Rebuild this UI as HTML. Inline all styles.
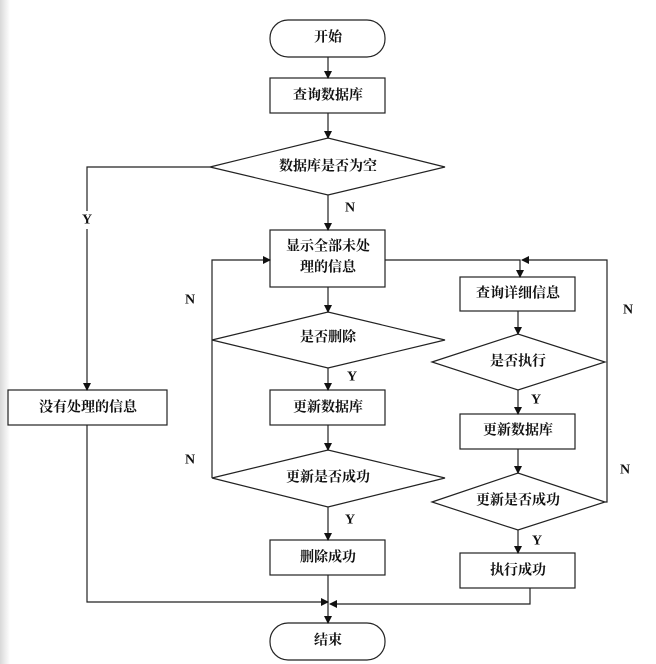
<!DOCTYPE html>
<html><head><meta charset="utf-8"><style>
body{margin:0;background:#fff}
svg{display:block}
text{font-family:"Liberation Serif","Noto Serif CJK SC",serif;font-size:14px;font-weight:bold;fill:#111;text-anchor:middle;dominant-baseline:central}
</style></head><body>
<svg width="656" height="664" viewBox="0 0 656 664" xmlns="http://www.w3.org/2000/svg">
<defs>
<linearGradient id="g" x1="0" x2="1"><stop offset="0" stop-color="#d8d8d8"/><stop offset="1" stop-color="#fff"/></linearGradient>
<marker id="a" markerWidth="8" markerHeight="8" refX="7" refY="4" orient="auto" markerUnits="userSpaceOnUse"><path d="M0,0 L8,4 L0,8z" fill="#111"/></marker>
</defs>
<rect x="0" y="0" width="10" height="664" fill="url(#g)"/>
<g fill="none" stroke="#222" stroke-width="1.2">
<rect x="270" y="20" width="115" height="37" rx="18"/>
<rect x="270" y="78" width="115" height="35"/>
<polygon points="210,167 328,138 445,167 328,195"/>
<rect x="270" y="230" width="115" height="57"/>
<polygon points="212,340 328,312 445,340 328,368"/>
<rect x="270" y="390" width="115" height="35"/>
<polygon points="212,478 328,450 445,478 328,507"/>
<rect x="270" y="540" width="115" height="35"/>
<rect x="270" y="623" width="115" height="37" rx="18"/>
<rect x="8" y="390" width="159" height="35"/>
<rect x="460" y="277" width="115" height="34"/>
<polygon points="432,362 518,334 605,362 518,390"/>
<rect x="460" y="414" width="115" height="35"/>
<polygon points="432,502 518,473 605,502 518,530"/>
<rect x="460" y="553" width="115" height="35"/>
<!-- main connectors -->
<line x1="328" y1="57" x2="328" y2="78" marker-end="url(#a)"/>
<line x1="328" y1="113" x2="328" y2="138" marker-end="url(#a)"/>
<line x1="328" y1="195" x2="328" y2="230" marker-end="url(#a)"/>
<line x1="328" y1="287" x2="328" y2="312" marker-end="url(#a)"/>
<line x1="328" y1="368" x2="328" y2="390" marker-end="url(#a)"/>
<line x1="328" y1="425" x2="328" y2="450" marker-end="url(#a)"/>
<line x1="328" y1="507" x2="328" y2="540" marker-end="url(#a)"/>
<line x1="328" y1="575" x2="328" y2="623" marker-end="url(#a)"/>
<polyline points="210,167 87,167 87,390" marker-end="url(#a)"/>
<polyline points="87,425 87,602 328,602" marker-end="url(#a)"/>
<polyline points="530,588 530,604 330,604" marker-end="url(#a)"/>
<polyline points="212,478 212,260 270,260" marker-end="url(#a)"/>
<polyline points="385,260 520,260 520,277" marker-end="url(#a)"/>
<polyline points="605,502 607,502 607,260 522,260" marker-end="url(#a)"/>
<line x1="518" y1="311" x2="518" y2="334" marker-end="url(#a)"/>
<line x1="518" y1="390" x2="518" y2="414" marker-end="url(#a)"/>
<line x1="518" y1="449" x2="518" y2="473" marker-end="url(#a)"/>
<line x1="518" y1="530" x2="518" y2="553" marker-end="url(#a)"/>
</g>
<rect x="80" y="211" width="14" height="18" fill="#fff"/>
<text x="328" y="38">开始</text>
<text x="328" y="96">查询数据库</text>
<text x="328" y="167">数据库是否为空</text>
<text x="328" y="247">显示全部未处</text>
<text x="328" y="268">理的信息</text>
<text x="328" y="338">是否删除</text>
<text x="328" y="408">更新数据库</text>
<text x="328" y="478">更新是否成功</text>
<text x="328" y="558">删除成功</text>
<text x="328" y="641">结束</text>
<text x="88" y="408">没有处理的信息</text>
<text x="518" y="294">查询详细信息</text>
<text x="518" y="362">是否执行</text>
<text x="518" y="431">更新数据库</text>
<text x="518" y="501">更新是否成功</text>
<text x="518" y="571">执行成功</text>
<text x="87" y="220">Y</text>
<text x="350" y="208">N</text>
<text x="190" y="300">N</text>
<text x="190" y="460">N</text>
<text x="352" y="377">Y</text>
<text x="350" y="520">Y</text>
<text x="536" y="400">Y</text>
<text x="537" y="541">Y</text>
<text x="628" y="310">N</text>
<text x="625" y="470">N</text>
</svg>
</body></html>
